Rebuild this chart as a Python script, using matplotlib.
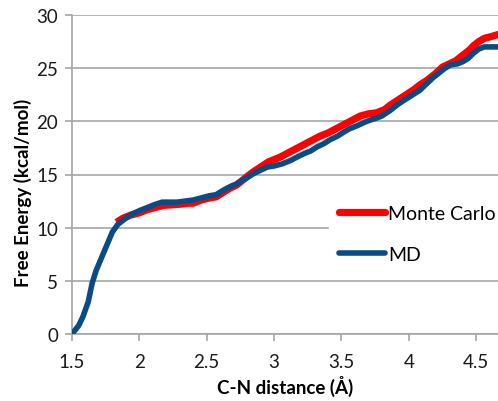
import matplotlib
matplotlib.use("Agg")
import matplotlib.pyplot as plt

md_x = [1.50, 1.55, 1.58, 1.62, 1.65, 1.68, 1.72, 1.76, 1.80, 1.84, 1.90, 1.95, 2.00, 2.06,
        2.12, 2.17, 2.22, 2.28, 2.34, 2.40, 2.46, 2.52, 2.57, 2.62, 2.68, 2.72, 2.76, 2.80,
        2.85, 2.90, 2.95, 3.00, 3.06, 3.12, 3.18, 3.23, 3.27, 3.32, 3.37, 3.42, 3.47, 3.52,
        3.56, 3.62, 3.67, 3.71, 3.76, 3.80, 3.86, 3.92, 3.98, 4.03, 4.08, 4.13, 4.18, 4.23,
        4.27, 4.31, 4.36, 4.40, 4.44, 4.48, 4.52, 4.56, 4.62, 4.70]
md_y = [0.0, 0.8, 1.6, 3.0, 4.8, 6.0, 7.2, 8.4, 9.6, 10.3, 10.9, 11.3, 11.6, 11.9,
        12.2, 12.4, 12.4, 12.4, 12.5, 12.6, 12.8, 13.0, 13.1, 13.5, 13.9, 14.1, 14.4, 14.7,
        15.1, 15.4, 15.7, 15.8, 16.0, 16.3, 16.7, 17.0, 17.2, 17.6, 17.9, 18.3, 18.6, 19.0,
        19.3, 19.6, 19.9, 20.1, 20.3, 20.5, 21.0, 21.6, 22.1, 22.5, 22.9, 23.5, 24.1, 24.6,
        25.0, 25.3, 25.4, 25.6, 25.9, 26.4, 26.8, 27.0, 27.0, 27.0]

mc_x = [1.83, 1.88, 1.94, 2.00, 2.06, 2.12, 2.18, 2.24, 2.30, 2.36, 2.40, 2.46, 2.52, 2.57,
        2.62, 2.67, 2.72, 2.78, 2.84, 2.90, 2.96, 3.04, 3.10, 3.16, 3.22, 3.28, 3.34, 3.40,
        3.46, 3.52, 3.58, 3.64, 3.70, 3.76, 3.82, 3.86, 3.92, 3.98, 4.04, 4.08, 4.14, 4.20,
        4.25, 4.30, 4.35, 4.40, 4.45, 4.48, 4.52, 4.56, 4.62, 4.70]
mc_y = [10.5, 10.9, 11.2, 11.4, 11.7, 11.9, 12.1, 12.15, 12.2, 12.3, 12.3, 12.6, 12.8, 12.9,
        13.3, 13.7, 14.0, 14.6, 15.2, 15.7, 16.2, 16.6, 17.0, 17.4, 17.8, 18.2, 18.6, 18.9,
        19.3, 19.7, 20.1, 20.5, 20.7, 20.8, 21.1, 21.5, 22.0, 22.5, 23.0, 23.4, 23.9, 24.5,
        25.1, 25.4, 25.7, 26.2, 26.7, 27.1, 27.5, 27.8, 28.0, 28.3]

x_ticks = [1.5, 2, 2.5, 3, 3.5, 4, 4.5]
x_tick_labels = ["1.5", "2", "2.5", "3", "3.5", "4", "4.5"]
y_ticks = [0, 5, 10, 15, 20, 25, 30]

plt.rcParams['font.family'] = ['Lato', 'DejaVu Sans']

fig = plt.figure(figsize=(4.98, 4.02), dpi=100)
ax = fig.add_axes([72/498, 67/402, 1 - 72/498, 319/402])

grey = '#A6A6A6'
ax.plot(mc_x, mc_y, color='#FF0000', lw=5.2, solid_joinstyle='round',
        solid_capstyle='butt', label='Monte Carlo', zorder=3)
ax.plot(md_x, md_y, color='#0A4A85', lw=4.0, solid_joinstyle='round',
        solid_capstyle='round', label='MD', zorder=4)

ax.set_xlim(1.5, 1.5 + 426/134.7)
ax.set_ylim(0, 30)
ax.set_xticks(x_ticks)
ax.set_xticklabels(x_tick_labels)
ax.set_yticks(y_ticks)

ax.grid(axis='y', color=grey, lw=1.2, zorder=1)
ax.set_axisbelow(True)
for s in ['top', 'right']:
    ax.spines[s].set_visible(False)
for s in ['left', 'bottom']:
    ax.spines[s].set_color(grey)
    ax.spines[s].set_linewidth(1.2)
ax.tick_params(axis='both', colors=grey, labelcolor='#1a1a1a', labelsize=13.5,
               length=5, width=1.2, direction='out')
ax.tick_params(axis='y', pad=5)
ax.tick_params(axis='x', pad=9)

ax.set_xlabel('C-N distance (Å)', fontsize=13.5, fontweight='bold', labelpad=3)
ax.set_ylabel('Free Energy (kcal/mol)', fontsize=13.5, fontweight='bold')
ax.yaxis.set_label_coords(-0.094, 0.445)

leg = ax.legend(loc='center left', bbox_to_anchor=(329/498, 167/402),
                bbox_transform=fig.transFigure, frameon=True, fancybox=False,
                framealpha=1, edgecolor='white', facecolor='white', fontsize=14,
                handlelength=2.4, handletextpad=0.15, labelspacing=1.25, borderpad=0.5,
                borderaxespad=0)
for line in leg.get_lines():
    line.set_solid_capstyle('round')

fig.savefig('out.png', dpi=100)
